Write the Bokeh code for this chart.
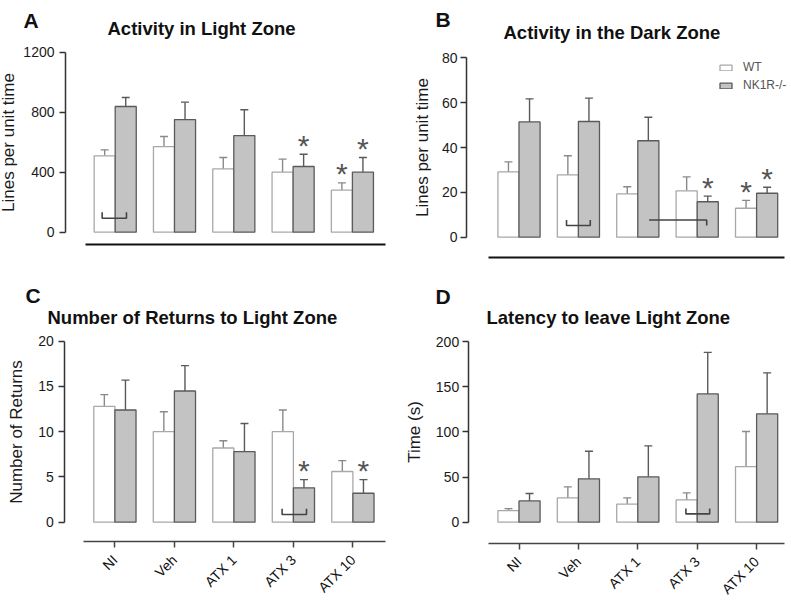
import math
import numpy as np
from bokeh.plotting import figure
from bokeh.layouts import row, column
from bokeh.models import (ColumnDataSource, Whisker, TeeHead, Label, FixedTicker,
                          Legend, LegendItem, Range1d)
from bokeh.embed import file_html
from bokeh.resources import INLINE
from bokeh.core.properties import value

groups = ["NI", "Veh", "ATX 1", "ATX 3", "ATX 10"]
series_names = ["WT", "NK1R-/-"]

# Panel A: Activity in Light Zone
a_wt = [509, 571, 422, 400, 280]
a_wt_sem = [40, 67, 76, 87, 49]
a_ko = [838, 751, 644, 438, 400]
a_ko_sem = [60, 116, 172, 82, 98]
a_stars = [(3, 1), (4, 0), (4, 1)]

# Panel B: Activity in the Dark Zone
b_wt = [29.1, 27.8, 19.3, 20.7, 12.9]
b_wt_sem = [4.5, 8.5, 3.2, 6.2, 3.5]
b_ko = [51.4, 51.6, 43.0, 15.8, 19.6]
b_ko_sem = [10.3, 10.4, 10.5, 2.5, 2.7]
b_stars = [(3, 1), (4, 0), (4, 1)]

# Panel C: Number of Returns to Light Zone
c_wt = [12.8, 10.0, 8.2, 10.0, 5.6]
c_wt_sem = [1.3, 2.2, 0.8, 2.4, 1.2]
c_ko = [12.4, 14.5, 7.8, 3.8, 3.2]
c_ko_sem = [3.3, 2.8, 3.1, 0.9, 1.5]
c_stars = [(3, 1), (4, 1)]

# Panel D: Latency to leave Light Zone
d_wt = [12.9, 26.9, 19.9, 24.7, 61.6]
d_wt_sem = [2.1, 12.2, 7.0, 7.8, 38.8]
d_ko = [23.6, 48.0, 50.2, 142.0, 120.0]
d_ko_sem = [8.1, 30.6, 34.3, 46.0, 45.3]
d_stars = []

# significance brackets: (shape, x start, x end in group units, y low, y high)
a_brackets = [("U", -0.22, 0.19, 93, 133)]
b_brackets = [("U", 0.8, 1.2, 5.2, 7.7), ("L", 2.19, 3.16, 5.2, 7.7)]
c_brackets = [("U", 2.81, 3.22, 0.85, 1.5)]
d_brackets = [("U", 2.81, 3.21, 9.2, 15.1)]

FONT = "Liberation Sans"
BAR_W = 0.355
WT_FILL, WT_LINE = "#ffffff", "#a8a8a8"
KO_FILL, KO_LINE = "#c3c3c3", "#5a5a5a"


def build(cfg):
    fx, fy, W, H = cfg["fx"], cfg["fy"], cfg["w"], cfg["h"]
    c0, sp, y0, ppu = cfg["c0"], cfg["sp"], cfg["y0"], cfg["ppu"]

    def px2x(px):
        return (px - c0) / sp

    def px2y(py):
        return (y0 - py) / ppu

    p = figure(width=W, height=H, output_backend="svg", toolbar_location=None,
               x_range=Range1d(px2x(fx), px2x(fx + W)), y_range=Range1d(px2y(fy + H), px2y(fy)),
               min_border_left=0, min_border_right=0, min_border_top=0, min_border_bottom=0)
    p.outline_line_color = None
    p.grid.visible = False
    p.background_fill_color = "white"

    idx = np.arange(len(groups))
    x_wt = idx - BAR_W / 2
    x_ko = idx + BAR_W / 2
    wt, wt_sem, ko, ko_sem = cfg["data"]
    src_wt = ColumnDataSource(dict(x=x_wt, top=wt, up=np.array(wt) + np.array(wt_sem)))
    src_ko = ColumnDataSource(dict(x=x_ko, top=ko, up=np.array(ko) + np.array(ko_sem)))

    for src, col in ((src_wt, "#8a8a8a"), (src_ko, "#5a5a5a")):
        w = Whisker(base="x", lower="top", upper="up", source=src, line_color=col, line_width=1.4,
                    upper_head=TeeHead(size=8, line_color=col, line_width=1.4), lower_head=None)
        p.add_layout(w)

    r_wt = p.vbar(x="x", top="top", bottom=0, width=BAR_W, source=src_wt,
                  fill_color=WT_FILL, line_color=WT_LINE, line_width=1.3)
    r_ko = p.vbar(x="x", top="top", bottom=0, width=BAR_W, source=src_ko,
                  fill_color=KO_FILL, line_color=KO_LINE, line_width=1.3)

    # stars
    if cfg["stars"]:
        sx, sy = [], []
        for gi, s in cfg["stars"]:
            if s == 0:
                sx.append(x_wt[gi]); sy.append(wt[gi] + wt_sem[gi])
            else:
                sx.append(x_ko[gi]); sy.append(ko[gi] + ko_sem[gi])
        p.text(x=sx, y=sy, text=["*"] * len(sx), text_align="center", text_baseline="alphabetic",
               y_offset=-9, text_font=value(FONT), text_font_size="30px", text_color="#555555")

    # brackets
    bx, by = [], []
    for (shape, x0, x1, ylo, yhi) in cfg["brackets"]:
        if shape == "U":
            bx.append([x0, x0, x1, x1]); by.append([yhi, ylo, ylo, yhi])
        else:
            bx.append([x0, x1, x1]); by.append([yhi, yhi, ylo])
    if bx:
        p.multi_line(xs=bx, ys=by, line_color="#444444", line_width=1.6)

    # y axis (fixed inside the frame)
    ya = p.yaxis[0]
    ya.fixed_location = px2x(cfg["yaxis_px"])
    ya.ticker = FixedTicker(ticks=cfg["yticks"])
    ya.bounds = (cfg["yticks"][0], cfg["yticks"][-1])
    ya.minor_tick_line_color = None
    ya.major_tick_in = 0
    ya.major_tick_out = 6
    ya.axis_line_color = "#333333"
    ya.axis_line_width = 1.5
    ya.major_tick_line_color = "#333333"
    ya.major_tick_line_width = 1.5
    ya.major_label_text_font = FONT
    ya.major_label_text_font_size = "14px"
    ya.major_label_text_color = "#1a1a1a"
    ya.major_label_standoff = cfg["ystand"][0]
    ya.axis_label = cfg["ylabel"]
    ya.axis_label_text_font = FONT
    ya.axis_label_text_font_size = "17px"
    ya.axis_label_text_font_style = "normal"
    ya.axis_label_text_color = "#1a1a1a"
    ya.axis_label_standoff = cfg["ystand"][1]

    # x axis (fixed inside the frame)
    xa = p.xaxis[0]
    xa.fixed_location = px2y(cfg["xaxis_py"])
    xa.bounds = (px2x(cfg["xline"][0]), px2x(cfg["xline"][1]))
    xa.minor_tick_line_color = None
    if cfg["xlabels"]:
        xa.ticker = FixedTicker(ticks=list(idx))
        xa.major_label_overrides = {i: g for i, g in enumerate(groups)}
        xa.major_label_orientation = math.pi / 4
        xa.major_tick_in = 0
        xa.major_tick_out = 6
        xa.axis_line_color = "#444444"
        xa.axis_line_width = 1.5
        xa.major_tick_line_color = "#444444"
        xa.major_tick_line_width = 1.5
        xa.major_label_text_font = FONT
        xa.major_label_text_font_size = "14px"
        xa.major_label_text_color = "#111111"
        xa.major_label_standoff = 10
    else:
        xa.ticker = FixedTicker(ticks=[])
        xa.major_tick_in = 0
        xa.major_tick_out = 0
        xa.major_label_standoff = 0
        xa.axis_line_color = "#111111"
        xa.axis_line_width = 2

    # panel letter and title
    lx, ly = cfg["letter_pos"]
    p.add_layout(Label(x=px2x(lx), y=px2y(ly), text=cfg["letter"], text_font=FONT,
                       text_font_size="21px", text_font_style="bold", text_color="#111111",
                       text_baseline="alphabetic"))
    tx, ty = cfg["title_pos"]
    p.add_layout(Label(x=px2x(tx), y=px2y(ty), text=cfg["title"], text_font=FONT,
                       text_font_size="18.5px", text_font_style="bold", text_color="#111111",
                       text_baseline="alphabetic"))

    if cfg.get("legend"):
        leg = Legend(items=[LegendItem(label=series_names[0], renderers=[r_wt]),
                            LegendItem(label=series_names[1], renderers=[r_ko])],
                     location=cfg["legend"], glyph_width=15, glyph_height=7, label_height=14,
                     spacing=4, padding=0, margin=0, label_standoff=10,
                     label_text_font=FONT, label_text_font_size="12px", label_text_color="#555555",
                     border_line_color=None, background_fill_alpha=0)
        p.add_layout(leg)
    return p


pA = build(dict(fx=0, fy=0, w=395, h=260, c0=114.7, sp=59.3, y0=231.7, ppu=0.15,
                data=(a_wt, a_wt_sem, a_ko, a_ko_sem), stars=a_stars, brackets=a_brackets,
                yticks=[0, 400, 800, 1200], ylabel="Lines per unit time", yaxis_px=65,
                ystand=(5, 2), xaxis_py=243.7, xline=(85, 385), xlabels=False,
                letter="A", letter_pos=(23, 19.5),
                title="Activity in Light Zone", title_pos=(107, 27.5)))

pB = build(dict(fx=395, fy=0, w=396, h=260, c0=518.5, sp=59.4, y0=236.7, ppu=2.2425,
                data=(b_wt, b_wt_sem, b_ko, b_ko_sem), stars=b_stars, brackets=b_brackets,
                yticks=[0, 20, 40, 60, 80], ylabel="Lines per unit time", yaxis_px=466,
                ystand=(3, 7), xaxis_py=257, xline=(487.7, 784), xlabels=False,
                letter="B", letter_pos=(435, 18.5),
                title="Activity in the Dark Zone", title_pos=(503, 32.3), legend=(323, 168)))

pC = build(dict(fx=0, fy=260, w=395, h=340, c0=114.4, sp=59.5, y0=521.7, ppu=9.05,
                data=(c_wt, c_wt_sem, c_ko, c_ko_sem), stars=c_stars, brackets=c_brackets,
                yticks=[0, 5, 10, 15, 20], ylabel="Number of Returns", yaxis_px=64.3,
                ystand=(5, 9), xaxis_py=541, xline=(83.3, 385), xlabels=True,
                letter="C", letter_pos=(25, 295),
                title="Number of Returns to Light Zone", title_pos=(47, 316.7)))

pD = build(dict(fx=395, fy=260, w=396, h=340, c0=518.5, sp=59.4, y0=521.7, ppu=0.9035,
                data=(d_wt, d_wt_sem, d_ko, d_ko_sem), stars=d_stars, brackets=d_brackets,
                yticks=[0, 50, 100, 150, 200], ylabel="Time (s)", yaxis_px=467.7,
                ystand=(3, 9), xaxis_py=542.7, xline=(488, 784), xlabels=True,
                letter="D", letter_pos=(435, 296),
                title="Latency to leave Light Zone", title_pos=(486, 317.3)))

layout = column(row(pA, pB), row(pC, pD))
open("out.html", "w").write(file_html(layout, INLINE))
